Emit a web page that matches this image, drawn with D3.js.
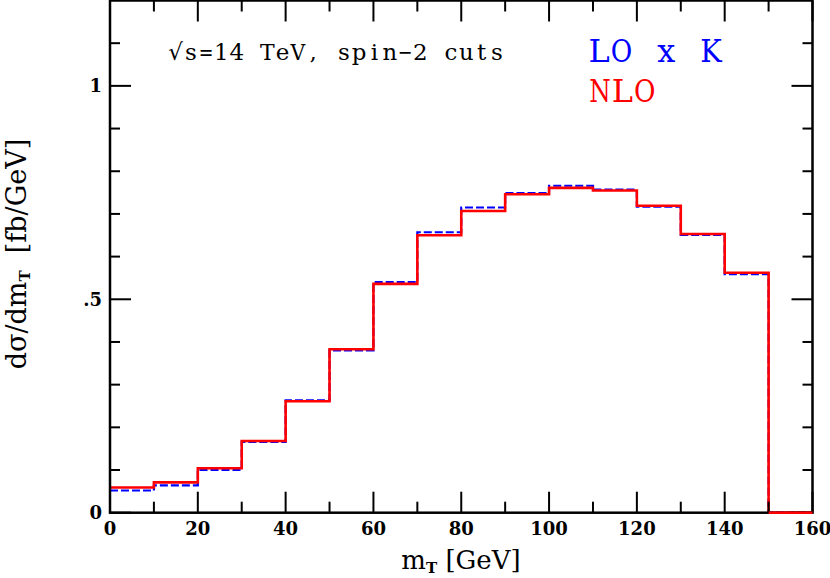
<!DOCTYPE html>
<html>
<head>
<meta charset="utf-8">
<script src="https://cdn.jsdelivr.net/npm/d3@7"></script>
<style>
  html, body { margin: 0; padding: 0; background: #fff; }
  svg { display: block; }
</style>
</head>
<body>
<svg id="chart" width="830" height="578"></svg>
<script>
// ---- data ----
const binEdges = [0, 10, 20, 30, 40, 50, 60, 70, 80, 90, 100, 110, 120, 130, 140, 150, 160];
const loK = [0.052, 0.064, 0.100, 0.166, 0.263, 0.380, 0.540, 0.657, 0.715, 0.749, 0.766, 0.757, 0.717, 0.651, 0.559, 0];
const nlo = [0.059, 0.071, 0.104, 0.168, 0.261, 0.383, 0.536, 0.650, 0.707, 0.746, 0.761, 0.755, 0.719, 0.653, 0.562, 0];
const xMajorTicks = [0, 20, 40, 60, 80, 100, 120, 140, 160];
const xMinorTicks = [10, 30, 50, 70, 90, 110, 130, 150];
const yMajorTicks = [0, 0.5, 1];
const yTickLabels = ["0", ".5", "1"];
const yMinorTicks = [0.1, 0.2, 0.3, 0.4, 0.6, 0.7, 0.8, 0.9, 1.1];
const titleText = "\u221As=14 TeV, spin\u22122 cuts";
const legendLO = "LO x K";
const legendNLO = "NLO";

// ---- layout ----
const L = 110, R = 812.5, T = 0.5, B = 512.7;
const svg = d3.select("#chart");
const x = d3.scaleLinear().domain([0, 160]).range([L, R]);
const y = d3.scaleLinear().domain([0, 1.2]).range([B, T]);
const serif = "'DejaVu Serif', serif";

// step histograms
function stepPts(vals) {
  const pts = vals.map((v, i) => [binEdges[i], v]);
  pts.push([binEdges[binEdges.length - 1], vals[vals.length - 1]]);
  return pts;
}
const line = d3.line().x(d => x(d[0])).y(d => y(d[1])).curve(d3.curveStepAfter);

svg.append("path").attr("d", line(stepPts(loK)))
  .attr("fill", "none").attr("stroke", "#0000ff").attr("stroke-width", 2.2)
  .attr("stroke-dasharray", "8,3");
svg.append("path").attr("d", line(stepPts(nlo)))
  .attr("fill", "none").attr("stroke", "#ff0000").attr("stroke-width", 2.6);

// axes with ticks (inward), mirrored
const axG = svg.append("g").attr("stroke", "#000").attr("stroke-width", 2);
function tickSet(vals, len, horiz) {
  vals.forEach(v => {
    if (horiz) {
      axG.append("line").attr("x1", x(v)).attr("x2", x(v)).attr("y1", B).attr("y2", B - len);
      axG.append("line").attr("x1", x(v)).attr("x2", x(v)).attr("y1", T).attr("y2", T + len);
    } else {
      axG.append("line").attr("y1", y(v)).attr("y2", y(v)).attr("x1", L).attr("x2", L + len);
      axG.append("line").attr("y1", y(v)).attr("y2", y(v)).attr("x1", R).attr("x2", R - len);
    }
  });
}
tickSet(xMajorTicks, 21, true);
tickSet(xMinorTicks, 11, true);
tickSet(yMajorTicks, 21, false);
tickSet(yMinorTicks, 10, false);
svg.append("rect").attr("x", L).attr("y", T).attr("width", R - L).attr("height", B - T)
  .attr("fill", "none").attr("stroke", "#000").attr("stroke-width", 2.5);

// redraw red at the bottom over the frame (150-160 segment)
svg.append("line").attr("x1", x(150)).attr("x2", x(160)).attr("y1", y(0)).attr("y2", y(0))
  .attr("stroke", "#ff0000").attr("stroke-width", 2.6);

// tick labels
xMajorTicks.forEach(v => {
  svg.append("text").attr("x", x(v)).attr("y", 535).attr("text-anchor", "middle")
    .attr("font-family", serif).attr("font-weight", "bold").attr("font-size", 18).text(v);
});
yMajorTicks.forEach((v, i) => {
  svg.append("text").attr("x", 102).attr("y", y(v) + 6.5).attr("text-anchor", "end")
    .attr("font-family", serif).attr("font-weight", "bold").attr("font-size", 18).text(yTickLabels[i]);
});

// monospaced-style text: each glyph centred in a fixed cell; glyphs wider
// than the cell are condensed horizontally only (height kept).
function monoText(str, cx0, cell, baseline, size, color) {
  const g = svg.append("g");
  Array.from(str).forEach((ch, i) => {
    if (ch === " ") return;
    const t = g.append("text").attr("font-family", serif).attr("font-size", size)
      .attr("fill", color).attr("text-anchor", "middle")
      .attr("transform", `translate(${cx0 + i * cell},${baseline})`).text(ch);
    const w = t.node().getComputedTextLength();
    const maxW = cell * 0.96;
    if (w > maxW) {
      t.attr("transform", `translate(${cx0 + i * cell},${baseline}) scale(${maxW / w},1)`);
    }
  });
}
monoText(titleText, 175.5, 15.3, 60, 23, "#000");
monoText(legendLO, 599, 22.4, 62, 32, "#0000ff");
monoText(legendNLO, 600, 22.4, 101.5, 32, "#ff0000");

// axis titles
const xl = svg.append("text").attr("x", 461).attr("y", 569).attr("text-anchor", "middle")
  .attr("font-family", serif).attr("font-size", 26);
xl.append("tspan").text("m");
xl.append("tspan").attr("font-size", 15).attr("dy", 4).attr("font-weight", "bold").text("T");
xl.append("tspan").attr("dy", -4).text("\u00A0[GeV]");

const yl = svg.append("text").attr("transform", "translate(26,254) rotate(-90)")
  .attr("text-anchor", "middle").attr("font-family", serif).attr("font-size", 27);
yl.append("tspan").text("d\u03C3/dm");
yl.append("tspan").attr("font-size", 15).attr("dy", 4).attr("font-weight", "bold").text("T");
yl.append("tspan").attr("dy", -4).text("\u00A0\u00A0[fb/GeV]");
</script>
</body>
</html>
